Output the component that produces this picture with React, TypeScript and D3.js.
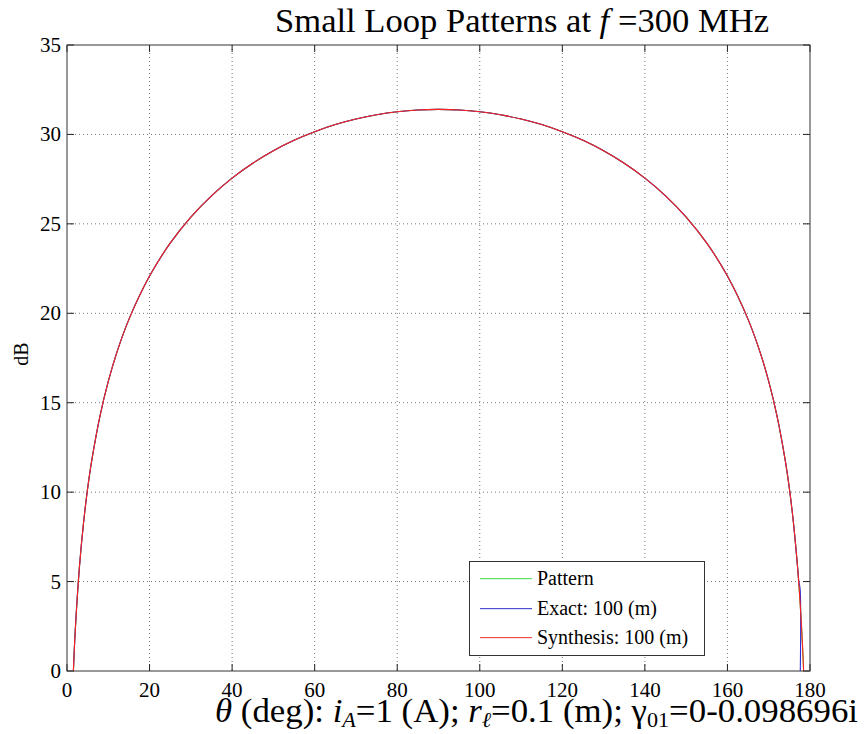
import React from "react";
import * as d3 from "d3";

// theta (deg) and level (dB)
const thetaPattern = [1.55, 2, 3, 4, 5, 6, 8, 10, 12, 15, 20, 25, 30, 35, 40, 45, 50, 55, 60, 65, 70, 75, 80, 85, 90,
  95, 100, 105, 110, 115, 120, 125, 130, 135, 140, 145, 150, 155, 160, 165, 168, 170, 172, 174, 175, 176, 177, 178, 178.45];
const dbPattern = [0.0, 2.26, 5.78, 8.27, 10.21, 11.78, 14.27, 16.19, 17.76, 19.66, 22.08, 23.92, 25.38, 26.57, 27.56, 28.39, 29.09, 29.67, 30.15, 30.55, 30.86, 31.1, 31.27, 31.37, 31.4,
  31.37, 31.27, 31.1, 30.86, 30.55, 30.15, 29.67, 29.09, 28.39, 27.56, 26.57, 25.38, 23.92, 22.08, 19.66, 17.76, 16.19, 14.27, 11.78, 10.21, 8.27, 5.78, 2.26, 0.0];

const thetaExact = [1.55, 2, 3, 4, 5, 6, 8, 10, 12, 15, 20, 25, 30, 35, 40, 45, 50, 55, 60, 65, 70, 75, 80, 85, 90,
  95, 100, 105, 110, 115, 120, 125, 130, 135, 140, 145, 150, 155, 160, 165, 168, 170, 172, 174, 175, 176, 177, 177.3, 177.6, 177.65];
const dbExact = [0.0, 2.26, 5.78, 8.27, 10.21, 11.78, 14.27, 16.19, 17.76, 19.66, 22.08, 23.92, 25.38, 26.57, 27.56, 28.39, 29.09, 29.67, 30.15, 30.55, 30.86, 31.1, 31.27, 31.37, 31.4,
  31.37, 31.27, 31.1, 30.86, 30.55, 30.15, 29.67, 29.09, 28.39, 27.56, 26.57, 25.38, 23.92, 22.08, 19.66, 17.76, 16.19, 14.27, 11.78, 10.21, 8.27, 5.78, 5.0, 4.6, 0.0];

const thetaSynth = thetaPattern;
const dbSynth = dbPattern;

const xTicks = [0, 20, 40, 60, 80, 100, 120, 140, 160, 180];
const yTicks = [0, 5, 10, 15, 20, 25, 30, 35];
const legendLabels = ["Pattern", "Exact: 100 (m)", "Synthesis: 100 (m)"];
const seriesColors = ["#30d030", "#2a2ad8", "#ff2020"];
const legendColors = ["#60e060", "#5050d0", "#f05050"];

export default function App() {
  const W = 865, H = 734;
  const L = 67, R = 810, T = 45, B = 671;
  const x = d3.scaleLinear().domain([0, 180]).range([L, R]);
  const y = d3.scaleLinear().domain([0, 35]).range([B, T]);
  const line = d3.line<[number, number]>().x(d => x(d[0])).y(d => y(d[1])).curve(d3.curveCatmullRom.alpha(0.5));
  const series = [
    thetaPattern.map((t, i) => [t, dbPattern[i]] as [number, number]),
    thetaExact.map((t, i) => [t, dbExact[i]] as [number, number]),
    thetaSynth.map((t, i) => [t, dbSynth[i]] as [number, number]),
  ];
  const font = "'Liberation Serif', 'Times New Roman', serif";
  const tl = 7;
  const lg = { x: 469, y: 561, w: 235, h: 94 };
  const rowY = (i: number) => Math.round(578 + i * 29.5);
  return (
    <svg width={W} height={H} style={{ position: "absolute", left: 0, top: 0, background: "#fff" }} fontFamily={font}>
      <rect x={0} y={0} width={W} height={H} fill="#fff" />
      {/* grid */}
      {xTicks.slice(1, -1).map(t => (
        <line key={"gx" + t} x1={x(t)} x2={x(t)} y1={T} y2={B} stroke="#555" strokeWidth={0.8} strokeDasharray="1,3" />
      ))}
      {yTicks.slice(1, -1).map(t => (
        <line key={"gy" + t} x1={L} x2={R} y1={y(t)} y2={y(t)} stroke="#555" strokeWidth={0.8} strokeDasharray="1,3" />
      ))}
      {/* ticks */}
      {xTicks.map(t => (
        <g key={"tx" + t}>
          <line x1={x(t)} x2={x(t)} y1={B} y2={B - tl} stroke="#222" />
          <line x1={x(t)} x2={x(t)} y1={T} y2={T + tl} stroke="#222" />
          <text x={x(t)} y={697} textAnchor="middle" fontSize={21}>{t}</text>
        </g>
      ))}
      {yTicks.map(t => (
        <g key={"ty" + t}>
          <line x1={L} x2={L + tl} y1={y(t)} y2={y(t)} stroke="#222" />
          <line x1={R} x2={R - tl} y1={y(t)} y2={y(t)} stroke="#222" />
          <text x={61} y={y(t) + 7} textAnchor="end" fontSize={21}>{t}</text>
        </g>
      ))}
      {/* curves */}
      <defs>
        <clipPath id="plotclip"><rect x={L} y={T} width={R - L} height={B - T} /></clipPath>
      </defs>
      <g clipPath="url(#plotclip)">
        {series.map((s, i) => (
          <path key={i} d={line(s) || ""} fill="none" stroke={seriesColors[i]} strokeWidth={1.1} />
        ))}
      </g>
      {/* box */}
      <rect x={L} y={T} width={R - L} height={B - T} fill="none" stroke="#333" strokeWidth={1} />
      {/* legend */}
      <rect x={lg.x + 0.5} y={lg.y + 0.5} width={lg.w} height={lg.h} fill="#fff" stroke="#333" strokeWidth={1} />
      {legendLabels.map((lab, i) => (
        <g key={lab}>
          <rect x={480} y={rowY(i)} width={52} height={1.2} fill={legendColors[i]} />
          <text x={537} y={rowY(i) + 7} fontSize={20}>{lab}</text>
        </g>
      ))}
      {/* title */}
      <text x={275} y={32} fontSize={34} textLength={494} lengthAdjust="spacingAndGlyphs">
        Small Loop Patterns at <tspan fontStyle="italic">f</tspan> =300 MHz
      </text>
      {/* y label */}
      <text transform="translate(28,354) rotate(-90)" textAnchor="middle" fontSize={20}>dB</text>
      {/* x label */}
      <text x={215} y={722} fontSize={33} textLength={643} lengthAdjust="spacingAndGlyphs">
        <tspan fontStyle="italic">θ</tspan> (deg): <tspan fontStyle="italic">i</tspan>
        <tspan fontStyle="italic" fontSize={21} dy={5}>A</tspan>
        <tspan dy={-5}>=1 (A); </tspan>
        <tspan fontStyle="italic">r</tspan>
        <tspan fontStyle="italic" fontSize={21} dy={5}>ℓ</tspan>
        <tspan dy={-5}>=0.1 (m); γ</tspan>
        <tspan fontSize={21} dy={5}>01</tspan>
        <tspan dy={-5}>=0-0.098696i</tspan>
      </text>
    </svg>
  );
}
